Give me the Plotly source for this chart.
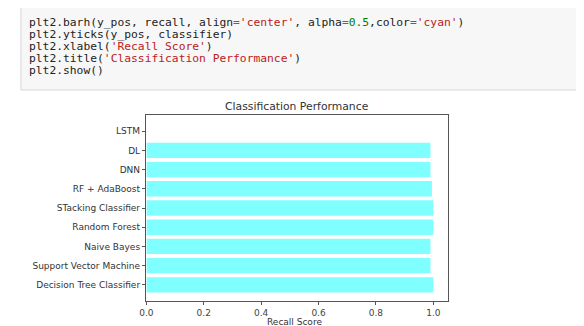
import plotly.graph_objects as go

# The browser page has an 8px body margin, so the figure is sized and placed to compensate.
PAGE_W, PAGE_H, OFF = 584, 326, 8
W, H = PAGE_W - OFF, PAGE_H - OFF

classifier = ["Decision Tree Classifier", "Support Vector Machine", "Naive Bayes",
              "Random Forest", "STacking Classifier", "RF + AdaBoost", "DNN", "DL", "LSTM"]
recall = [1.0, 0.99, 0.99, 1.0, 1.0, 0.995, 0.99, 0.99, 0.0]
y_pos = list(range(len(classifier)))
x_ticks = [0.0, 0.2, 0.4, 0.6, 0.8, 1.0]

OP = "#AA22FF"
STR = "#BA2121"
NUM = "#008000"
code_lines = [
    "plt2.barh(y_pos, recall, align<span style='color:%s'>=</span><span style='color:%s'>'center'</span>, "
    "alpha<span style='color:%s'>=</span><span style='color:%s'>0.5</span>,color<span style='color:%s'>=</span>"
    "<span style='color:%s'>'cyan'</span>)" % (OP, STR, OP, NUM, OP, STR),
    "plt2.yticks(y_pos, classifier)",
    "plt2.xlabel(<span style='color:%s'>'Recall Score'</span>)" % STR,
    "plt2.title(<span style='color:%s'>'Classification Performance'</span>)" % STR,
    "plt2.show()",
]

# page-pixel -> paper coordinates
L, R, T, B = 141, 446, 115, 301
px = lambda x: (x - OFF) / W
py = lambda y: (PAGE_H - y) / H

fig = go.Figure()
fig.add_trace(go.Bar(
    x=recall, y=y_pos, orientation="h", width=0.8,
    marker=dict(color="rgba(0,255,255,0.5)", line=dict(width=0)),
    hoverinfo="x+y",
))

fig.update_layout(
    width=W, height=H,
    margin=dict(l=0, r=0, t=0, b=0),
    paper_bgcolor="white", plot_bgcolor="white",
    showlegend=False,
    font=dict(family="DejaVu Sans", size=9, color="#333"),
    xaxis=dict(
        domain=[px(L), px(R)], range=[0, 1.05],
        tickvals=x_ticks, tickformat=".1f",
        ticks="outside", ticklen=3, tickcolor="#555", tickwidth=0.8,
        showline=True, linecolor="#555", linewidth=1, mirror=True,
        showgrid=False, zeroline=False,
        tickfont=dict(size=9, color="#444"),
    ),
    yaxis=dict(
        domain=[py(B), py(T)], range=[-0.84, 8.84],
        tickvals=y_pos, ticktext=classifier,
        ticks="outside", ticklen=3.5, tickcolor="#555", tickwidth=0.8,
        showline=True, linecolor="#555", linewidth=1, mirror=True,
        showgrid=False, zeroline=False,
        tickfont=dict(size=9, color="#333"),
    ),
)

# code cell box
fig.add_shape(type="rect", xref="paper", yref="paper",
              x0=px(14), x1=px(600), y0=py(90), y1=py(7),
              fillcolor="#f7f7f7", line=dict(color="#d6d6d6", width=1), layer="below")

code_y = [23, 35, 47, 59, 71]
for txt, yy in zip(code_lines, code_y):
    fig.add_annotation(text=txt, xref="paper", yref="paper", x=px(21), y=py(yy),
                       xanchor="left", yanchor="middle", showarrow=False,
                       height=12, valign="bottom", borderpad=0,
                       font=dict(family="DejaVu Sans Mono", size=11.3, color="#222"))

fig.add_annotation(text="Classification Performance", xref="paper", yref="paper",
                   x=px(293), y=py(106), xanchor="center", yanchor="middle", showarrow=False,
                   font=dict(family="DejaVu Sans", size=10.8, color="#333"))
fig.add_annotation(text="Recall Score", xref="paper", yref="paper",
                   x=px(291), y=py(321.5), xanchor="center", yanchor="middle", showarrow=False,
                   height=9, valign="middle", borderpad=0,
                   font=dict(family="DejaVu Sans", size=9, color="#333"))

fig.write_html("out.html")
